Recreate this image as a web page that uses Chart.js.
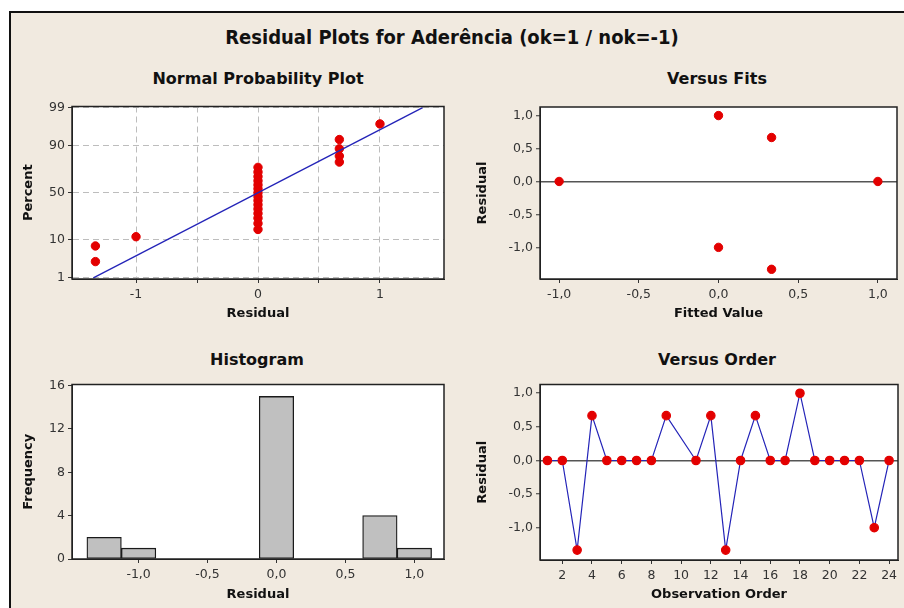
<!DOCTYPE html>
<html>
<head>
<meta charset="utf-8">
<script src="https://cdn.jsdelivr.net/npm/chart.js@4.4.1/dist/chart.umd.min.js"></script>
<style>
  body { margin: 0; width: 904px; height: 608px; background: #fff; overflow: hidden; position: relative;
         font-family: "DejaVu Sans", sans-serif; }
  #panel { position: absolute; left: 9px; top: 11px; width: 895px; height: 597px; background: #f1eae0;
           border-left: 2px solid #111; border-top: 2px solid #111; box-sizing: border-box; }
  .t { position: absolute; font-weight: bold; color: #111; white-space: nowrap; transform: translate(-50%, -50%); }
  .main { font-size: 20px; font-family: "DejaVu Sans Condensed", "DejaVu Sans", sans-serif; }
  .sub { font-size: 16px; }
  canvas { position: absolute; }
</style>
</head>
<body>
<div id="panel"></div>
<div class="t main" style="left:452px;top:37px">Residual Plots for Aderência (ok=1 / nok=-1)</div>
<div class="t sub" style="left:258px;top:78px">Normal Probability Plot</div>
<div class="t sub" style="left:717px;top:78px">Versus Fits</div>
<div class="t sub" style="left:257px;top:359px">Histogram</div>
<div class="t sub" style="left:717px;top:359px">Versus Order</div>

<canvas id="normalChart" width="440" height="230" style="left:12px;top:96px"></canvas>
<canvas id="fitsChart" width="444" height="230" style="left:460px;top:96px"></canvas>
<canvas id="histChart" width="440" height="234" style="left:12px;top:374px"></canvas>
<canvas id="orderChart" width="444" height="234" style="left:460px;top:374px"></canvas>

<script>
// ---- data ----

// normal probability plot (sorted residuals and their plotting percents)
const normResid = [-1.333, -1.333, -1, 0, 0, 0, 0, 0, 0, 0, 0, 0, 0, 0, 0, 0, 0, 0, 0.667, 0.667, 0.667, 0.667, 1];
const normPct = [3.0, 7.3, 11.5, 15.8, 20.1, 24.4, 28.6, 32.9, 37.2, 41.5, 45.7, 50.0, 54.3, 58.5, 62.8, 67.1, 71.4, 75.6, 79.9, 84.2, 88.5, 92.7, 97.0];
const fitLineResid = [-1.35, 1.35];
const fitLinePct = [1, 99];
const pctTicks = [1, 10, 50, 90, 99];
const normXTicks = [-1, 0, 1];

// versus fits
const fittedValues = [-1, 0, 0, 0.333, 0.333, 1];
const fitsResid = [0, 1, -1, 0.667, -1.333, 0];

// histogram
const binMids = [-1.25, -1, -0.75, -0.5, -0.25, 0, 0.25, 0.5, 0.75, 1];
const binFreq = [2, 1, 0, 0, 0, 15, 0, 0, 4, 1];
const freqTicks = [0, 4, 8, 12, 16];

// versus order (observation 10 missing)
const obsOrder = [1, 2, 3, 4, 5, 6, 7, 8, 9, 10, 11, 12, 13, 14, 15, 16, 17, 18, 19, 20, 21, 22, 23, 24];
const orderResid = [0, 0, -1.333, 0.667, 0, 0, 0, 0, 0.667, null, 0, 0.667, -1.333, 0, 0.667, 0, 0, 1, 0, 0, 0, 0, -1, 0];
const orderTicks = [2, 4, 6, 8, 10, 12, 14, 16, 18, 20, 22, 24];

const residTicks = [-1, -0.5, 0, 0.5, 1];

// ---- helpers ----
const RED = '#e30000';
const BLUE = '#2424b8';

Chart.defaults.font.family = '"DejaVu Sans", sans-serif';
Chart.defaults.font.size = 12.5;
Chart.defaults.color = '#333';

// inverse normal cdf (Acklam) - used for the probability axis
function probit(p) {
    const a = [-39.69683028665376, 220.9460984245205, -275.9285104469687, 138.3577518672690, -30.66479806614716, 2.506628277459239];
    const b = [-54.47609879822406, 161.5858368580409, -155.6989798598866, 66.80131188771972, -13.28068155211977];
    const c = [-0.007784894002430293, -0.3223964580411365, -2.400758277161838, -2.549732539343734, 4.374664141464968, 2.938163982698783];
    const d = [0.007784695709041462, 0.3224671290700398, 2.445134137142996, 3.754408661907416];
    const pl = 0.02425;
    let q, r;
    if (p < pl) {
        q = Math.sqrt(-2 * Math.log(p));
        return (((((c[0]*q + c[1])*q + c[2])*q + c[3])*q + c[4])*q + c[5]) / ((((d[0]*q + d[1])*q + d[2])*q + d[3])*q + 1);
    } else if (p <= 1 - pl) {
        q = p - 0.5; r = q * q;
        return (((((a[0]*r + a[1])*r + a[2])*r + a[3])*r + a[4])*r + a[5])*q / (((((b[0]*r + b[1])*r + b[2])*r + b[3])*r + b[4])*r + 1);
    }
    q = Math.sqrt(-2 * Math.log(1 - p));
    return -(((((c[0]*q + c[1])*q + c[2])*q + c[3])*q + c[4])*q + c[5]) / ((((d[0]*q + d[1])*q + d[2])*q + d[3])*q + 1);
}

function comma(v) {
    return v.toFixed(1).replace('.', ',');
}

function setTicks(list) {
    return function(scale) { scale.ticks = list.map(v => ({ value: v })); };
}

// white plot area + black frame
const framePlugin = {
    id: 'frame',
    beforeDraw(chart) {
        const a = chart.chartArea, ctx = chart.ctx;
        ctx.save();
        ctx.fillStyle = '#fff';
        ctx.fillRect(a.left, a.top, a.right - a.left, a.bottom - a.top);
        ctx.restore();
    },
    afterDraw(chart) {
        const a = chart.chartArea, ctx = chart.ctx;
        ctx.save();
        ctx.strokeStyle = '#222';
        ctx.lineWidth = 1.5;
        ctx.strokeRect(a.left, a.top, a.right - a.left, a.bottom - a.top);
        ctx.restore();
    }
};

function axisTitle(text, pad) {
    return { display: true, text: text, font: { weight: 'bold', size: 13 }, color: '#111', padding: pad };
}

function baseOpts(pad, scales) {
    return {
        responsive: false,
        animation: false,
        layout: { padding: pad },
        plugins: { legend: { display: false }, tooltip: { enabled: false } },
        scales: scales
    };
}

const zeroLine = c => c.tick && c.tick.value === 0 ? '#555' : 'rgba(0,0,0,0)';

// ---- Normal probability plot ----
new Chart(document.getElementById('normalChart'), {
    type: 'scatter',
    data: {
        datasets: [
            {
                type: 'line',
                data: fitLineResid.map((x, i) => ({ x: x, y: probit(fitLinePct[i] / 100) })),
                borderColor: BLUE, borderWidth: 1.3, pointRadius: 0
            },
            {
                data: normResid.map((x, i) => ({ x: x, y: probit(normPct[i] / 100) })),
                backgroundColor: RED, borderColor: RED, pointRadius: 4.2
            }
        ]
    },
    options: baseOpts({ top: 10, right: 8, left: 0, bottom: 0 }, {
        x: {
            type: 'linear', min: -1.525, max: 1.525,
            afterBuildTicks: setTicks([-1, -0.5, 0, 0.5, 1]),
            afterFit(s) { s.height = 47; },
            border: { color: '#222', width: 1, dash: [6, 4] },
            grid: { color: '#bdbdbd', tickLength: 4, tickColor: '#333' },
            ticks: { padding: 4, maxRotation: 0, callback: v => normXTicks.includes(v) ? String(v) : '' },
            title: axisTitle('Residual', { bottom: 5 })
        },
        y: {
            type: 'linear', min: probit(0.01) - 0.03, max: probit(0.99) + 0.03,
            afterBuildTicks: setTicks(pctTicks.map(p => probit(p / 100))),
            afterFit(s) { s.width = 60; },
            border: { color: '#222', width: 1, dash: [6, 4] },
            grid: { color: '#bdbdbd', tickLength: 4, tickColor: '#333' },
            ticks: { padding: 3, callback: (v, i) => String(pctTicks[i]) },
            title: axisTitle('Percent', { top: 9 })
        }
    }),
    plugins: [framePlugin]
});

// ---- Versus fits ----
new Chart(document.getElementById('fitsChart'), {
    type: 'scatter',
    data: {
        datasets: [{
            data: fittedValues.map((x, i) => ({ x: x, y: fitsResid[i] })),
            backgroundColor: RED, borderColor: RED, pointRadius: 4.2
        }]
    },
    options: baseOpts({ top: 11, right: 7, left: 0, bottom: 0 }, {
        x: {
            type: 'linear', min: -1.12, max: 1.12,
            afterBuildTicks: setTicks(residTicks),
            afterFit(s) { s.height = 47; },
            border: { color: '#222', width: 1 },
            grid: { drawOnChartArea: false, tickLength: 4, tickColor: '#333' },
            ticks: { padding: 4, maxRotation: 0, callback: v => comma(v) },
            title: axisTitle('Fitted Value', { bottom: 5 })
        },
        y: {
            type: 'linear', min: -1.48, max: 1.13,
            afterBuildTicks: setTicks(residTicks),
            afterFit(s) { s.width = 80; },
            border: { color: '#222', width: 1 },
            grid: { color: zeroLine, lineWidth: 1.5, tickLength: 4, tickColor: '#333', tickWidth: 1 },
            ticks: { padding: 3, callback: v => comma(v) },
            title: axisTitle('Residual', { top: 15 })
        }
    }),
    plugins: [framePlugin]
});

// ---- Histogram ----
new Chart(document.getElementById('histChart'), {
    type: 'bar',
    data: {
        datasets: [{
            data: binMids.map((x, i) => ({ x: x, y: binFreq[i] })),
            backgroundColor: '#c0c0c0', borderColor: '#1a1a1a', borderWidth: 1.3,
            borderSkipped: false, barPercentage: 1, categoryPercentage: 1
        }]
    },
    options: baseOpts({ top: 10, right: 8, left: 0, bottom: 0 }, {
        x: {
            type: 'linear', min: -1.483, max: 1.215, offset: false,
            afterBuildTicks: setTicks(residTicks),
            afterFit(s) { s.height = 49; },
            border: { color: '#222', width: 1 },
            grid: { drawOnChartArea: false, tickLength: 4, tickColor: '#333', offset: false },
            ticks: { padding: 4, maxRotation: 0, callback: v => comma(v) },
            title: axisTitle('Residual', { bottom: 6 })
        },
        y: {
            type: 'linear', min: 0, max: 16.1,
            afterBuildTicks: setTicks(freqTicks),
            afterFit(s) { s.width = 60; },
            border: { color: '#222', width: 1 },
            grid: { drawOnChartArea: false, tickLength: 4, tickColor: '#333' },
            ticks: { padding: 3 },
            title: axisTitle('Frequency', { top: 9 })
        }
    }),
    plugins: [framePlugin]
});

// ---- Versus order ----
new Chart(document.getElementById('orderChart'), {
    type: 'line',
    data: {
        datasets: [{
            data: obsOrder.map((x, i) => ({ x: x, y: orderResid[i] })),
            borderColor: BLUE, borderWidth: 1.2, spanGaps: true,
            pointBackgroundColor: RED, pointBorderColor: RED, pointRadius: 4.2
        }]
    },
    options: baseOpts({ top: 10, right: 6, left: 0, bottom: 0 }, {
        x: {
            type: 'linear', min: 0.5, max: 24.6,
            afterBuildTicks: setTicks(orderTicks),
            afterFit(s) { s.height = 48; },
            border: { color: '#222', width: 1 },
            grid: { drawOnChartArea: false, tickLength: 4, tickColor: '#333' },
            ticks: { padding: 4, maxRotation: 0 },
            title: axisTitle('Observation Order', { bottom: 6 })
        },
        y: {
            type: 'linear', min: -1.48, max: 1.13,
            afterBuildTicks: setTicks(residTicks),
            afterFit(s) { s.width = 80; },
            border: { color: '#222', width: 1 },
            grid: { color: zeroLine, lineWidth: 1.5, tickLength: 4, tickColor: '#333', tickWidth: 1 },
            ticks: { padding: 3, callback: v => comma(v) },
            title: axisTitle('Residual', { top: 15 })
        }
    }),
    plugins: [framePlugin]
});
</script>
</body>
</html>
